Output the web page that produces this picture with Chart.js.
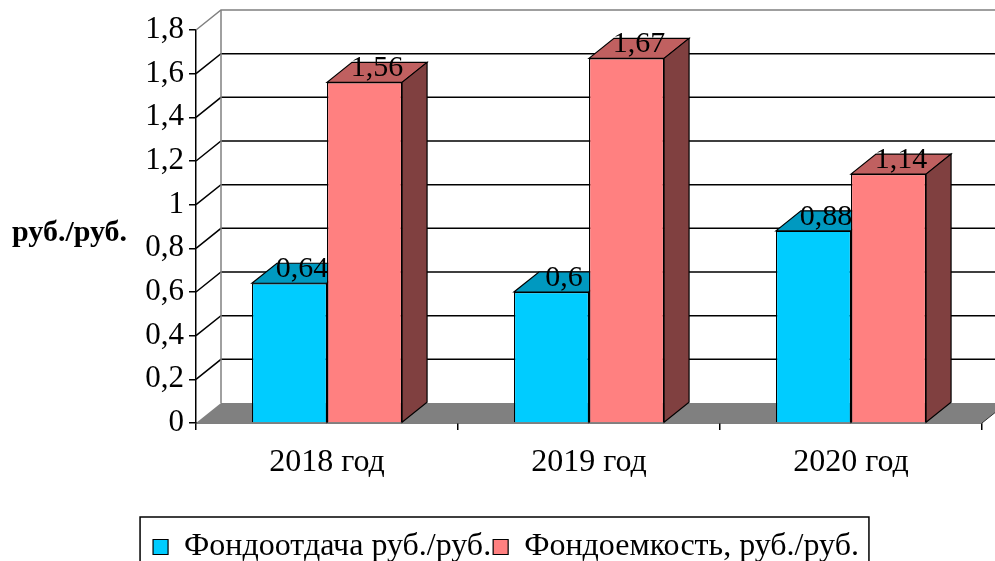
<!DOCTYPE html>
<html>
<head>
<meta charset="utf-8">
<script src="https://cdn.jsdelivr.net/npm/chart.js@4.4.0/dist/chart.umd.min.js"></script>
<style>
  html, body { margin: 0; padding: 0; background: #fff; }
  #wrap { width: 995px; height: 561px; }
</style>
</head>
<body>
<div id="wrap"><canvas id="chart"></canvas></div>
<script>
// данные
const categories = ["2018 год", "2019 год", "2020 год"];
const fondootdacha = [0.64, 0.6, 0.88];
const fondoemkost = [1.56, 1.67, 1.14];
const seriesNames = ["Фондоотдача руб./руб.", "Фондоемкость, руб./руб."];
const yTitle = "руб./руб.";
const yMin = 0, yMax = 1.8, yStep = 0.2;

// 3D сдвиг (глубина)
const DX = 25, DY = -20;
const SERIF = "'Liberation Serif', 'DejaVu Serif', serif";
const fmt = v => String(+(+v).toFixed(2)).replace(".", ",");

const colors = [
  { front: "#00CCFF", top: "#0099C0", side: "#006680" },
  { front: "#FF8080", top: "#C06060", side: "#804040" }
];

function drawFaces(ctx, bar, c) {
  const { x, y, base, width } = bar.getProps(["x", "y", "base", "width"], true);
  const l = x - width / 2, r = x + width / 2;
  ctx.lineWidth = 1.2;
  ctx.strokeStyle = "#000";
  // верх
  ctx.beginPath();
  ctx.moveTo(l, y); ctx.lineTo(r, y); ctx.lineTo(r + DX, y + DY); ctx.lineTo(l + DX, y + DY);
  ctx.closePath();
  ctx.fillStyle = c.top; ctx.fill(); ctx.stroke();
  // бок
  ctx.beginPath();
  ctx.moveTo(r, y); ctx.lineTo(r + DX, y + DY); ctx.lineTo(r + DX, base + DY); ctx.lineTo(r, base);
  ctx.closePath();
  ctx.fillStyle = c.side; ctx.fill(); ctx.stroke();
}

// подписи значений над верхней гранью
function drawLabels(chart, i) {
  const { ctx } = chart;
  const ds = chart.data.datasets[i];
  ctx.font = "30px " + SERIF;
  ctx.fillStyle = "#000";
  ctx.textAlign = "center";
  ctx.textBaseline = "alphabetic";
  chart.getDatasetMeta(i).data.forEach((bar, j) => {
    const { x, y } = bar.getProps(["x", "y"], true);
    ctx.fillText(fmt(ds.data[j]), x + DX / 2, y - 6);
  });
}

const box3d = {
  id: "box3d",
  beforeDatasetsDraw(chart) {
    const { ctx, chartArea: a, scales: { y } } = chart;
    ctx.save();
    // сетка на задней и боковой стенке
    y.ticks.forEach(t => {
      if (t.value === yMin) return;
      const py = y.getPixelForValue(t.value);
      ctx.strokeStyle = t.value >= yMax ? "#808080" : "#000";
      ctx.lineWidth = 1.5;
      ctx.beginPath();
      ctx.moveTo(a.left, py);
      ctx.lineTo(a.left + DX, py + DY);
      ctx.lineTo(a.right + DX + 30, py + DY);
      ctx.stroke();
    });
    ctx.strokeStyle = "#808080";
    ctx.lineWidth = 1.5;
    ctx.beginPath();
    ctx.moveTo(a.left + DX, a.top + DY);
    ctx.lineTo(a.left + DX, a.bottom + DY);
    ctx.stroke();
    // пол
    ctx.fillStyle = "#808080";
    ctx.beginPath();
    ctx.moveTo(a.left, a.bottom); ctx.lineTo(a.right, a.bottom);
    ctx.lineTo(a.right + DX, a.bottom + DY); ctx.lineTo(a.left + DX, a.bottom + DY);
    ctx.closePath();
    ctx.fill();
    ctx.strokeStyle = "#333";
    ctx.lineWidth = 1;
    ctx.beginPath();
    ctx.moveTo(a.right, a.bottom); ctx.lineTo(a.right + DX, a.bottom + DY);
    ctx.stroke();
    // первая серия: верх, бок и подписи (частично закрываются второй серией)
    chart.getDatasetMeta(0).data.forEach(bar => drawFaces(ctx, bar, colors[0]));
    drawLabels(chart, 0);
    ctx.restore();
  },
  afterDatasetsDraw(chart) {
    const { ctx } = chart;
    ctx.save();
    chart.getDatasetMeta(1).data.forEach(bar => drawFaces(ctx, bar, colors[1]));
    drawLabels(chart, 1);
    ctx.restore();
  },
  afterDraw(chart) {
    const { ctx, legend } = chart;
    ctx.save();
    // подпись оси Y
    ctx.font = "bold 30px " + SERIF;
    ctx.fillStyle = "#000";
    ctx.textBaseline = "middle";
    ctx.textAlign = "left";
    ctx.fillText(yTitle, 12, 233);
    // рамка легенды
    const hb = legend.legendHitBoxes;
    if (hb && hb.length) {
      const l = hb[0].left - 13;
      const r = hb[hb.length - 1].left + hb[hb.length - 1].width + 10;
      const t = hb[0].top - 14;
      ctx.strokeStyle = "#000";
      ctx.lineWidth = 1.5;
      ctx.beginPath();
      ctx.moveTo(l, chart.height + 2);
      ctx.lineTo(l, t); ctx.lineTo(r, t); ctx.lineTo(r, chart.height + 2);
      ctx.stroke();
    }
    ctx.restore();
  }
};

new Chart(document.getElementById("chart"), {
  type: "bar",
  data: {
    labels: categories,
    datasets: [
      { label: seriesNames[0], data: fondootdacha, backgroundColor: colors[0].front, borderColor: "#000", borderWidth: 1.2 },
      { label: seriesNames[1], data: fondoemkost, backgroundColor: colors[1].front, borderColor: "#000", borderWidth: 1.2 }
    ]
  },
  options: {
    responsive: true,
    maintainAspectRatio: false,
    animation: false,
    categoryPercentage: 0.573,
    barPercentage: 1,
    layout: { padding: { left: 30, top: 30, right: 13, bottom: -12 } },
    scales: {
      x: {
        grid: { offset: true, drawOnChartArea: false, color: "#000", tickLength: 7, lineWidth: 1.5 },
        border: { color: "#000", width: 1.5 },
        ticks: { color: "#000", font: { family: SERIF, size: 32 }, padding: 13 },
        afterFit: s => { s.height = 106; }
      },
      y: {
        min: yMin, max: yMax,
        grid: { drawOnChartArea: false, color: "#000", tickLength: 7, lineWidth: 1.5 },
        border: { color: "#000", width: 1.5 },
        ticks: { stepSize: yStep, color: "#000", padding: 5, font: { family: SERIF, size: 31 }, callback: v => fmt(v.toFixed(1)) },
        afterFit: s => { s.width = 166; }
      }
    },
    plugins: {
      tooltip: { enabled: false },
      legend: {
        position: "bottom",
        labels: { color: "#000", font: { family: SERIF, size: 32 }, boxWidth: 15, boxHeight: 15, padding: 2 }
      }
    }
  },
  plugins: [box3d]
});
</script>
</body>
</html>
